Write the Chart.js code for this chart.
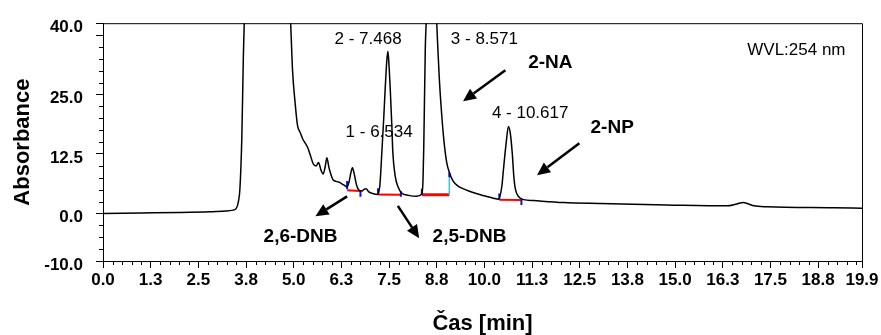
<!DOCTYPE html>
<html>
<head>
<meta charset="utf-8">
<script src="https://cdn.jsdelivr.net/npm/chart.js@4"></script>
<style>
  body { margin: 0; background: #fff; }
</style>
</head>
<body>
<canvas id="chrom" width="881" height="335"></canvas>
<script>
// retention time [min] and absorbance
const times = [0.00, 1.00, 2.00, 2.80, 3.20, 3.41, 3.49, 3.55, 3.59, 3.64, 3.68, 3.71, 3.78, 4.30, 4.85, 4.92,
  4.97, 5.04, 5.10, 5.17, 5.24, 5.31, 5.37, 5.43, 5.52, 5.59, 5.65, 5.72, 5.77, 5.82, 5.87, 5.92, 5.96, 6.03,
  6.18, 6.31, 6.40, 6.45, 6.50, 6.54, 6.59, 6.64, 6.70, 6.79, 6.85, 6.90, 6.96, 7.07, 7.20, 7.26, 7.31, 7.36,
  7.40, 7.44, 7.47, 7.50, 7.53, 7.57, 7.60, 7.66, 7.74, 7.83, 8.01, 8.23, 8.36, 8.39, 8.41, 8.45, 8.48, 8.52,
  8.571, 8.65, 8.72, 8.75, 8.78, 8.82, 8.86, 8.93, 9.01, 9.09, 9.18, 9.30, 9.50, 9.70, 10.00, 10.24, 10.37,
  10.46, 10.50, 10.57, 10.63, 10.68, 10.73, 10.77, 10.81, 10.90, 11.03, 11.29, 12.07, 13.03, 14.78, 16.36,
  16.62, 16.79, 17.06, 17.41, 19.15, 19.90];
const absorbance = [0.0, 0.1, 0.2, 0.35, 0.5, 0.7, 1.0, 2.5, 5.2, 16, 33, 42, 60, 80, 52, 40,
  30, 23, 18.5, 17, 15.6, 14.7, 13.8, 12.4, 10.3, 10.0, 10.7, 9.0, 8.3, 9.6, 11.7, 9.8, 8.6, 7.1,
  6.6, 6.0, 5.6, 6.6, 8.6, 9.6, 8.2, 6.2, 5.0, 4.7, 5.1, 5.2, 4.6, 4.2, 4.0, 6, 12.7, 20,
  26.4, 32, 34.1, 31, 26.4, 19, 12.7, 7.9, 5.5, 4.3, 3.8, 3.6, 4.1, 7, 14, 34.6, 42, 60,
  75, 62, 46, 40, 34.6, 28, 23, 16, 10.8, 8.4, 6.8, 5.8, 5.0, 4.4, 3.7, 3.2, 3.0,
  5.9, 9.3, 14.8, 18.3, 16.8, 12.7, 7.9, 5.2, 3.5, 2.9, 2.7, 2.3, 2.1, 1.8, 1.6,
  2.0, 2.3, 1.6, 1.4, 1.2, 1.1];

// integration baselines: [tStart, aStart, tEnd, aEnd]
const baselines = [[6.40, 4.85, 6.75, 4.7], [7.21, 4.0, 7.81, 3.95], [10.39, 2.9, 10.97, 2.8]];
const mainBaseline = [8.36, 3.95, 9.08, 3.95];
// peak delimiters: [t, aTop, aBottom]
const delimiters = [[6.40, 6.8, 5.1], [6.75, 4.8, 3.5], [7.21, 5.3, 4.0], [7.81, 4.65, 3.5],
  [8.36, 5.2, 4.0], [9.08, 8.6, 7.6], [10.39, 4.2, 2.9], [10.97, 2.9, 1.8]];
const dropLine = [9.08, 7.6, 3.95];

// tick values and labels
const xTicks = [0, 1.25, 2.5, 3.75, 5, 6.25, 7.5, 8.75, 10, 11.25, 12.5, 13.75, 15, 16.25, 17.5, 18.75, 19.9];
const xTickLabels = ["0.0", "1.3", "2.5", "3.8", "5.0", "6.3", "7.5", "8.8", "10.0", "11.3", "12.5", "13.8",
  "15.0", "16.3", "17.5", "18.8", "19.9"];
const yTicks = [-10, 0, 12.5, 25, 37.5, 40];
const yTickLabels = ["-10.0", "0.0", "12.5", "25.0", "", "40.0"];

// peak labels [text, t, a, bold]
const labels = [
  ["2 - 7.468", 6.95, 36.7, false],
  ["3 - 8.571", 10.0, 36.7, false],
  ["1 - 6.534", 7.24, 17.0, false],
  ["4 - 10.617", 11.2, 21.1, false],
  ["WVL:254 nm", 18.18, 34.4, false],
  ["2-NA", 11.73, 31.6, true],
  ["2-NP", 13.35, 18.1, true],
  ["2,6-DNB", 5.18, -4.8, true],
  ["2,5-DNB", 9.61, -4.8, true]
];
// arrows [tFrom, aFrom, tTo, aTo]
const arrows = [[10.55, 30.1, 9.44, 23.6], [12.49, 14.75, 11.38, 8.05],
  [6.40, 3.6, 5.57, -0.6], [7.73, 1.6, 8.29, -5.2]];

const FONT = "'Liberation Sans', Arial, sans-serif";

function segs(list) {
  let pts = [];
  list.forEach(s => {
    pts.push({ x: s[0], y: s[1] }, { x: s[2], y: s[3] }, { x: s[2], y: null });
  });
  return pts;
}
function vsegs(list) {
  let pts = [];
  list.forEach(s => {
    pts.push({ x: s[0], y: s[1] }, { x: s[0], y: s[2] }, { x: s[0], y: null });
  });
  return pts;
}

const extras = {
  id: "extras",
  afterDraw(chart) {
    const ctx = chart.ctx;
    const xs = chart.scales.x, ys = chart.scales.y;
    const a = chart.chartArea;
    ctx.save();
    ctx.strokeStyle = "#000";
    ctx.lineWidth = 1;
    // frame top/right
    ctx.beginPath();
    ctx.moveTo(a.left, a.top + 0.5);
    ctx.lineTo(a.right + 0.5, a.top + 0.5);
    ctx.lineTo(a.right + 0.5, a.bottom);
    ctx.stroke();
    // minor ticks
    ctx.beginPath();
    for (let v = -7.5; v < 40; v += 2.5) {
      if (yTicks.includes(v)) continue;
      const py = Math.round(ys.getPixelForValue(v)) + 0.5;
      ctx.moveTo(a.left - 4, py);
      ctx.lineTo(a.left, py);
    }
    for (let k = 1; k * 0.25 < 19.9; k++) {
      if (k % 5 === 0) continue;
      const px = Math.round(xs.getPixelForValue(k * 0.25)) + 0.5;
      ctx.moveTo(px, a.bottom);
      ctx.lineTo(px, a.bottom + 4);
    }
    ctx.stroke();

    // arrows
    ctx.lineWidth = 2.5;
    ctx.fillStyle = "#000";
    arrows.forEach(r => {
      const x1 = xs.getPixelForValue(r[0]), y1 = ys.getPixelForValue(r[1]);
      const x2 = xs.getPixelForValue(r[2]), y2 = ys.getPixelForValue(r[3]);
      const ang = Math.atan2(y2 - y1, x2 - x1);
      const hl = 13, hw = 6;
      const bx = x2 - hl * Math.cos(ang), by = y2 - hl * Math.sin(ang);
      ctx.beginPath();
      ctx.moveTo(x1, y1);
      ctx.lineTo(bx, by);
      ctx.stroke();
      ctx.beginPath();
      ctx.moveTo(x2, y2);
      ctx.lineTo(bx + hw * Math.sin(ang), by - hw * Math.cos(ang));
      ctx.lineTo(bx - hw * Math.sin(ang), by + hw * Math.cos(ang));
      ctx.closePath();
      ctx.fill();
    });

    // labels
    ctx.textAlign = "center";
    ctx.textBaseline = "middle";
    labels.forEach(l => {
      ctx.font = (l[3] ? "bold 19px " : "17px ") + FONT;
      ctx.fillText(l[0], xs.getPixelForValue(l[1]), ys.getPixelForValue(l[2]));
    });
    ctx.restore();
  }
};

new Chart(document.getElementById("chrom"), {
  type: "line",
  data: {
    datasets: [
      {
        data: times.map((t, i) => ({ x: t, y: absorbance[i] })),
        borderColor: "#000",
        borderWidth: 1.5,
        pointRadius: 0,
        cubicInterpolationMode: "monotone"
      },
      { data: vsegs(delimiters), borderColor: "#1010e0", borderWidth: 2, pointRadius: 0, spanGaps: false },
      { data: vsegs([dropLine]), borderColor: "#00e0e8", borderWidth: 1.5, pointRadius: 0, spanGaps: false },
      { data: segs([mainBaseline]), borderColor: "#ff0000", borderWidth: 3, pointRadius: 0, spanGaps: false },
      { data: segs(baselines), borderColor: "#ff0000", borderWidth: 2, pointRadius: 0, spanGaps: false }
    ]
  },
  options: {
    responsive: false,
    animation: false,
    layout: { padding: { top: 17, right: 19, left: 0, bottom: 0 } },
    plugins: { legend: { display: false }, tooltip: { enabled: false } },
    scales: {
      x: {
        type: "linear",
        min: 0,
        max: 19.9,
        afterFit: s => { s.height = 74; },
        afterBuildTicks: s => { s.ticks = xTicks.map(v => ({ value: v })); },
        ticks: {
          autoSkip: false,
          maxRotation: 0,
          padding: 2,
          color: "#000",
          font: { family: FONT, size: 17, weight: "bold" },
          callback: (v, i) => xTickLabels[i]
        },
        grid: { drawOnChartArea: false, tickLength: 7, tickColor: "#000" },
        border: { color: "#000", width: 1 },
        title: {
          display: true,
          text: "Čas [min]",
          color: "#000",
          font: { family: FONT, size: 22, weight: "bold" },
          padding: { top: 0, bottom: -2 }
        }
      },
      y: {
        min: -10,
        max: 40,
        afterFit: s => { s.width = 103; },
        afterBuildTicks: s => { s.ticks = yTicks.map(v => ({ value: v })); },
        ticks: {
          autoSkip: false,
          padding: 13,
          labelOffset: 4,
          color: "#000",
          font: { family: FONT, size: 17, weight: "bold" },
          callback: (v, i) => yTickLabels[i]
        },
        grid: { drawOnChartArea: false, tickLength: 7, tickColor: "#000" },
        border: { color: "#000", width: 1 },
        title: {
          display: true,
          text: "Absorbance",
          color: "#000",
          font: { family: FONT, size: 22, weight: "bold" },
          padding: { top: 10, bottom: 0 }
        }
      }
    }
  },
  plugins: [extras]
});
</script>
</body>
</html>
